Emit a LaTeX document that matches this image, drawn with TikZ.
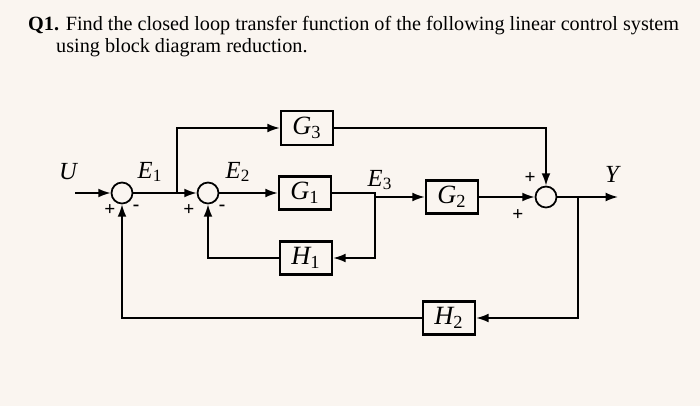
\documentclass[tikz,border=0pt]{standalone}
\usepackage{fontspec}
\setmainfont{Liberation Serif}
\usetikzlibrary{arrows.meta}
\newcommand{\sbn}[1]{\textsubscript{\upshape #1}}
\begin{document}
\begin{tikzpicture}[x=0.02cm,y=-0.02cm,
  blk/.style={draw,line width=1.2pt,minimum width=1.05cm,minimum height=0.66cm,font=\fontsize{15}{15}\selectfont\itshape},
  sj/.style={draw,circle,line width=1pt,minimum size=0.42cm,inner sep=0},
  lbl/.style={font=\fontsize{14}{14}\selectfont\itshape},
  sg/.style={font=\fontsize{11}{11}\selectfont\bfseries},
  ln/.style={line width=0.9pt},
  ar/.style={ln,-{Latex[length=7pt,width=5pt]}}]
\fill[white!92!brown] (0,0) rectangle (700,406);
\useasboundingbox (0,0) rectangle (700,406);
\node[anchor=base west,font=\fontsize{11.5}{11.5}\selectfont] (t1) at (22,30) {\textbf{Q1.} Find the closed loop transfer function of the following linear control system};
\node[anchor=base west,font=\fontsize{11.5}{11.5}\selectfont] (t2) at (50,52) {using block diagram reduction.};
\node[sj] (j1) at (122,193) {};
\node[sj] (j2) at (208,193) {};
\node[sj] (j3) at (546,197) {};
\node[blk] (g3) at (307,128) {G\sbn{3}};
\node[blk] (g1) at (305,193) {G\sbn{1}};
\node[blk] (h1) at (306,258) {H\sbn{1}};
\node[blk] (g2) at (452,197) {G\sbn{2}};
\node[blk] (h2) at (449,318) {H\sbn{2}};
\coordinate (u) at (75,193);
\coordinate (y) at (618,197);
\coordinate (b1) at (177,193);
\coordinate (b2) at (375,193);
\coordinate (b3) at (578,197);
\draw[ar] (u) -- (j1);
\draw[ar] (j1) -- (j2);
\draw[ar] (b1) |- (g3);
\draw[ar] (j2) -- (g1);
\draw[ar] (g1.east) -- (b2) |- (g2.west);
\draw[ar] (b2) |- (h1);
\draw[ar] (h1) -| (j2);
\draw[ar] (g3) -| (j3);
\draw[ar] (g2) -- (j3);
\draw[ar] (j3) -- (y);
\draw[ar] (b3) |- (h2);
\draw[ar] (h2) -| (j1);
\node[lbl] (lu) at (68,172) {U};
\node[lbl] (le1) at (150,172) {E\sbn{1}};
\node[lbl] (le2) at (238,172) {E\sbn{2}};
\node[lbl] (le3) at (380,180) {E\sbn{3}};
\node[lbl] (ly) at (612,174) {Y};
\node[sg] (s1) at (110,210) {+};
\node[sg] (s2) at (136,208) {-};
\node[sg] (s3) at (189,210) {+};
\node[sg] (s4) at (222,208) {-};
\node[sg] (s5) at (530,178) {+};
\node[sg] (s6) at (518,215) {+};
\end{tikzpicture}
\end{document}
